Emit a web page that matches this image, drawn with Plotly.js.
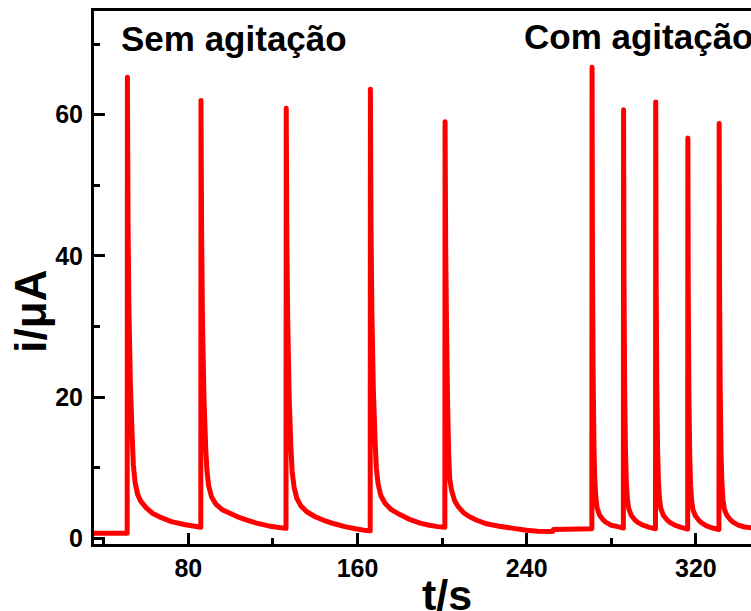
<!DOCTYPE html>
<html>
<head>
<meta charset="utf-8">
<script src="https://cdn.plot.ly/plotly-3.0.1.min.js"></script>
<style>
  html, body { margin: 0; padding: 0; background: #fff; }
  #chart { width: 751px; height: 611px; }
  .js-line { stroke-linejoin: round; stroke-linecap: round; }
</style>
</head>
<body>
<div id="chart"></div>
<script>
// Chronoamperometric current transients: five additions without stirring,
// then five additions with stirring. Time in s, current in µA.
const timeS = [
  // baseline
  35, 51.1,
  // transient 1
  51.2, 51.5, 51.9, 52.6, 53.4, 54.0, 54.8, 56.0, 57.5, 60, 63, 67, 72, 78, 83, 85.9,
  // transient 2
  86.0, 86.3, 86.7, 87.4, 88.2, 88.8, 89.6, 91, 93, 96, 99.7, 104, 108, 112.3, 118, 122, 126.2,
  // transient 3
  126.3, 126.6, 127.0, 127.7, 128.5, 129.1, 130, 131.3, 133.3, 136, 140, 144, 149, 154, 159, 163, 166.0,
  // transient 4
  166.1, 166.4, 166.8, 167.5, 168.3, 168.9, 169.7, 171, 173, 176, 180, 184, 189.6, 194, 198, 201.3,
  // transient 5 and the quiet stretch after it
  201.4, 201.7, 202.1, 202.6, 203.1, 203.6, 204.5, 206, 207.7, 210, 213, 216.4, 221, 227, 233.7, 240, 245, 252.3, 252.6, 270.8,
  // transient 6 (stirred)
  270.9, 271.1, 271.4, 271.8, 272.2, 272.7, 273.3, 274.5, 276, 277.5, 280, 283, 285.7,
  // transient 7
  285.8, 286.0, 286.3, 286.7, 287.1, 287.6, 288.2, 289.4, 291, 292.5, 295, 298, 300.9,
  // transient 8
  301.0, 301.2, 301.5, 301.9, 302.3, 302.8, 303.4, 304.6, 306.2, 307.7, 310, 313, 316.1,
  // transient 9
  316.2, 316.4, 316.7, 317.1, 317.5, 318.0, 318.6, 319.8, 321.4, 322.9, 325, 328, 330.9,
  // transient 10
  331.0, 331.2, 331.5, 331.9, 332.3, 332.8, 333.4, 334.6, 336.2, 337.7, 340, 343, 347
];

const currentUA = [
  // baseline
  0.75, 0.75,
  // transient 1
  65.3, 45, 33, 22, 15, 10.5, 8.0, 6.3, 5.3, 4.4, 3.6, 3.0, 2.4, 2.0, 1.75, 1.6,
  // transient 2
  62.0, 43, 31, 20, 13, 9.7, 7.5, 5.9, 4.9, 4.1, 3.6, 3.0, 2.6, 2.2, 1.8, 1.6, 1.45,
  // transient 3
  60.9, 42, 31, 20, 13, 9.5, 7.3, 5.7, 4.6, 3.8, 3.1, 2.6, 2.1, 1.7, 1.4, 1.2, 1.1,
  // transient 4
  63.6, 44, 32, 21, 14, 10, 7.8, 6.1, 5.0, 4.1, 3.4, 2.8, 2.2, 1.9, 1.7, 1.6,
  // transient 5 and the quiet stretch after it
  59.0, 41, 30, 19, 12, 8.5, 6.8, 5.3, 4.5, 3.7, 3.1, 2.6, 2.1, 1.75, 1.45, 1.2, 1.05, 1.0, 1.3, 1.4,
  // transient 6 (stirred)
  66.7, 40, 24, 13, 8.3, 5.8, 4.3, 3.3, 2.7, 2.3, 1.9, 1.7, 1.5,
  // transient 7
  60.7, 37, 22, 12.5, 8.0, 5.6, 4.3, 3.3, 2.7, 2.3, 1.9, 1.6, 1.4,
  // transient 8
  61.8, 37, 22, 12.5, 8.0, 5.6, 4.3, 3.3, 2.7, 2.3, 1.9, 1.6, 1.35,
  // transient 9
  56.7, 34, 20, 11.5, 7.5, 5.3, 4.1, 3.2, 2.6, 2.2, 1.8, 1.5, 1.3,
  // transient 10
  58.75, 35, 21, 12, 7.8, 5.5, 4.2, 3.3, 2.7, 2.3, 1.9, 1.65, 1.5
];

const xTickVals = [80, 160, 240, 320];
const xMinorVals = [40, 120, 200, 280];
const yTickVals = [0, 20, 40, 60];
const yMinorVals = [10, 30, 50, 70];

const labelSem = 'Sem agitação';
const labelCom = 'Com agitação';
const xTitle = 't/s';
const yTitle = 'i/μA';

const FONT = 'Liberation Sans, Arial, Helvetica, sans-serif';

const trace = {
  x: timeS,
  y: currentUA,
  type: 'scatter',
  mode: 'lines',
  line: { color: '#ff0000', width: 5, simplify: false },
  hoverinfo: 'skip'
};

const axisCommon = {
  showgrid: false,
  zeroline: false,
  showline: true,
  linecolor: '#000',
  linewidth: 3,
  ticks: 'inside',
  ticklen: 11,
  tickwidth: 3,
  tickcolor: '#000',
  tickmode: 'array',
  tickfont: { family: FONT, size: 25, color: '#000', weight: 'bold' }
};

const layout = {
  width: 751,
  height: 611,
  margin: { l: 94, r: 0, t: 11, b: 67, pad: 0 },
  paper_bgcolor: '#fff',
  plot_bgcolor: '#fff',
  showlegend: false,
  xaxis: Object.assign({}, axisCommon, {
    range: [35.41, 346.05],
    tickvals: xTickVals,
    mirror: true,
    ticklabelstandoff: 0,
    minor: { tickmode: 'array', tickvals: xMinorVals, ticks: 'inside', ticklen: 6, tickwidth: 3, tickcolor: '#000' }
  }),
  yaxis: Object.assign({}, axisCommon, {
    range: [-0.76, 74.67],
    tickvals: yTickVals,
    mirror: false,
    ticklabelstandoff: 3,
    minor: { tickmode: 'array', tickvals: yMinorVals, ticks: 'inside', ticklen: 6, tickwidth: 3, tickcolor: '#000' }
  }),
  annotations: [
    { text: labelSem, xref: 'x', yref: 'y', x: 47.1, y: 70.8, xanchor: 'left', yanchor: 'middle',
      showarrow: false, font: { family: FONT, size: 35, color: '#000', weight: 'bold' } },
    { text: labelCom, xref: 'x', yref: 'y', x: 237.8, y: 71.1, xanchor: 'left', yanchor: 'middle',
      showarrow: false, font: { family: FONT, size: 35, color: '#000', weight: 'bold' } },
    { text: xTitle, xref: 'paper', yref: 'paper', x: 0.537, y: -0.095, xanchor: 'center', yanchor: 'middle',
      showarrow: false, font: { family: FONT, size: 43, color: '#000', weight: 'bold' } },
    { text: yTitle, xref: 'paper', yref: 'paper', x: -0.098, y: 0.437, xanchor: 'center', yanchor: 'middle',
      textangle: -90, showarrow: false, font: { family: FONT, size: 44, color: '#000', weight: 'bold' } }
  ]
};

Plotly.newPlot('chart', [trace], layout, { staticPlot: true, displayModeBar: false });
</script>
</body>
</html>
